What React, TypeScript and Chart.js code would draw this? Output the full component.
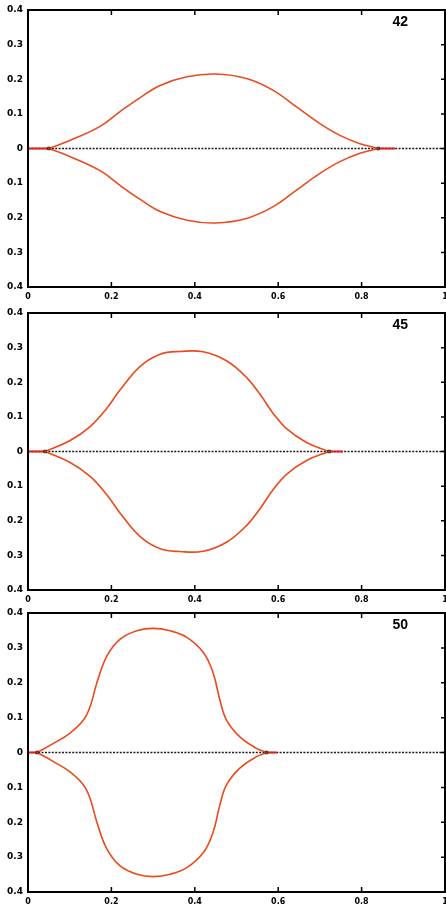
import React, { useEffect, useRef } from "react";
import { Chart, registerables } from "chart.js";

Chart.register(...registerables);

// ---- data ----
const PANEL_LABELS = ["42", "45", "50"];

const X_42 = [0.05, 0.1, 0.173, 0.22, 0.269, 0.317, 0.381, 0.45, 0.524, 0.588, 0.644, 0.7, 0.748, 0.796, 0.84];
const UP_42 = [0, 0.023, 0.064, 0.106, 0.147, 0.182, 0.207, 0.215, 0.202, 0.168, 0.12, 0.072, 0.038, 0.014, 0];
const LO_42 = [0, -0.023, -0.064, -0.106, -0.147, -0.182, -0.207, -0.215, -0.202, -0.168, -0.12, -0.072, -0.038, -0.014, 0];
const FLAT_X_42 = [0, 0.05, 0.5, 0.84, 0.88];
const FLAT_Y_42 = [0, 0, null, 0, 0];
const JUNCTION_X_42 = [0.05, 0.84];

const X_45 = [0.041, 0.1, 0.149, 0.189, 0.221, 0.269, 0.317, 0.365, 0.42, 0.476, 0.524, 0.556, 0.588, 0.62, 0.668, 0.722];
const UP_45 = [0, 0.031, 0.072, 0.125, 0.178, 0.246, 0.281, 0.289, 0.288, 0.262, 0.214, 0.166, 0.11, 0.066, 0.026, 0];
const LO_45 = [0, -0.031, -0.072, -0.125, -0.178, -0.246, -0.281, -0.289, -0.288, -0.262, -0.214, -0.166, -0.11, -0.066, -0.026, 0];
const FLAT_X_45 = [0, 0.041, 0.4, 0.722, 0.755];
const FLAT_Y_45 = [0, 0, null, 0, 0];
const JUNCTION_X_45 = [0.041, 0.722];

const X_50 = [0.022, 0.061, 0.1, 0.133, 0.149, 0.165, 0.189, 0.221, 0.261, 0.3, 0.341, 0.381, 0.421, 0.444, 0.46, 0.476, 0.508, 0.548, 0.572];
const UP_50 = [0, 0.026, 0.055, 0.093, 0.132, 0.199, 0.276, 0.325, 0.349, 0.356, 0.349, 0.33, 0.286, 0.228, 0.151, 0.093, 0.045, 0.012, 0];
const LO_50 = [0, -0.026, -0.055, -0.093, -0.132, -0.199, -0.276, -0.325, -0.349, -0.356, -0.349, -0.33, -0.286, -0.228, -0.151, -0.093, -0.045, -0.012, 0];
const FLAT_X_50 = [0, 0.022, 0.3, 0.572, 0.596];
const FLAT_Y_50 = [0, 0, null, 0, 0];
const JUNCTION_X_50 = [0.022, 0.572];

const ZERO_X = [0, 1];
const ZERO_Y = [0, 0];

const X_TICKS = [0, 0.2, 0.4, 0.6, 0.8, 1];
const X_TICK_LABELS = ["0", "0.2", "0.4", "0.6", "0.8", "1"];
const Y_TICKS = [-0.4, -0.3, -0.2, -0.1, 0, 0.1, 0.2, 0.3, 0.4];
const Y_TICK_LABELS = ["0.4", "0.3", "0.2", "0.1", "0", "0.1", "0.2", "0.3", "0.4"];

const CURVE_COLOR = "rgb(234,74,30)";
const FLAT_COLOR = "rgb(226,32,24)";

function framePlugin(label: string) {
  return {
    id: "frameTicks",
    afterDraw(chart: any) {
      const { ctx, chartArea } = chart;
      const { left, top, right, bottom } = chartArea;
      const xs = chart.scales.x;
      const ys = chart.scales.y;
      ctx.save();
      ctx.strokeStyle = "#000";
      ctx.lineWidth = 2;
      ctx.strokeRect(left, top, right - left, bottom - top);
      ctx.lineWidth = 1.5;
      ctx.beginPath();
      xs.ticks.forEach((t: any) => {
        const px = xs.getPixelForValue(t.value);
        if (px <= left + 1 || px >= right - 1) return;
        ctx.moveTo(px, top);
        ctx.lineTo(px, top + 5);
        ctx.moveTo(px, bottom);
        ctx.lineTo(px, bottom - 5);
      });
      ys.ticks.forEach((t: any) => {
        const py = ys.getPixelForValue(t.value);
        if (py <= top + 1 || py >= bottom - 1) return;
        ctx.moveTo(right, py);
        ctx.lineTo(right - 4, py);
      });
      ctx.stroke();
      ctx.fillStyle = "#000";
      ctx.font = 'bold 14px "Liberation Sans", Arial, sans-serif';
      ctx.textAlign = "right";
      ctx.textBaseline = "alphabetic";
      ctx.fillText(label, right - 37, top + 16);
      ctx.restore();
    },
  };
}

type PanelProps = {
  xs: number[];
  up: number[];
  lo: number[];
  flatX: number[];
  flatY: (number | null)[];
  junctions: number[];
  label: string;
  top: number;
  height: number;
};

function Panel(props: PanelProps) {
  const ref = useRef<HTMLCanvasElement>(null);
  useEffect(() => {
    if (!ref.current) return;
    const chart = new Chart(ref.current, {
      type: "line",
      data: {
        datasets: [
          {
            data: props.junctions.map((x) => ({ x, y: 0 })),
            showLine: false,
            pointStyle: "rect",
            pointRadius: 1.8,
            pointHoverRadius: 0,
            pointHitRadius: 0,
            pointBorderWidth: 1,
            pointBorderColor: "#3a2a2a",
            pointBackgroundColor: "rgba(0,0,0,0)",
          },
          {
            data: props.xs.map((x, i) => ({ x, y: props.up[i] })),
            borderColor: CURVE_COLOR,
            borderWidth: 1.6,
            pointRadius: 0,
            tension: 0.4,
          },
          {
            data: props.xs.map((x, i) => ({ x, y: props.lo[i] })),
            borderColor: CURVE_COLOR,
            borderWidth: 1.6,
            pointRadius: 0,
            tension: 0.4,
          },
          {
            data: props.flatX.map((x, i) => ({ x, y: props.flatY[i] })),
            borderColor: FLAT_COLOR,
            borderWidth: 2.2,
            pointRadius: 0,
            spanGaps: false,
          },
          {
            data: ZERO_X.map((x, i) => ({ x, y: ZERO_Y[i] })),
            borderColor: "#1a1a1a",
            borderWidth: 1.5,
            borderDash: [2, 1.4],
            pointRadius: 0,
          },
        ],
      } as any,
      options: {
        animation: false,
        responsive: false,
        devicePixelRatio: 1,
        events: [],
        layout: { autoPadding: false, padding: { top: 10, right: 1, left: 0, bottom: 0 } },
        plugins: { legend: { display: false }, tooltip: { enabled: false } },
        scales: {
          x: {
            type: "linear",
            min: 0,
            max: 1,
            afterBuildTicks: (s: any) => {
              s.ticks = X_TICKS.map((v) => ({ value: v }));
            },
            ticks: {
              callback: (_v: any, i: number) => X_TICK_LABELS[i],
              font: { family: '"DejaVu Sans"', weight: "bold", size: 8 },
              color: "#000",
              padding: 5,
              maxRotation: 0,
              autoSkip: false,
            },
            grid: { display: false, drawTicks: false },
            border: { display: false },
            afterFit: (s: any) => {
              s.height = 18;
              s.paddingLeft = 0;
              s.paddingRight = 0;
            },
          },
          y: {
            type: "linear",
            min: -0.4,
            max: 0.4,
            afterBuildTicks: (s: any) => {
              s.ticks = Y_TICKS.map((v) => ({ value: v }));
            },
            ticks: {
              callback: (_v: any, i: number) => Y_TICK_LABELS[i],
              font: { family: '"DejaVu Sans"', weight: "bold", size: 9 },
              color: "#000",
              padding: 5,
              autoSkip: false,
            },
            grid: { display: false, drawTicks: false },
            border: { display: false },
            afterFit: (s: any) => {
              s.width = 28;
              s.paddingTop = 0;
              s.paddingBottom = 0;
            },
          },
        },
      } as any,
      plugins: [framePlugin(props.label)],
    });
    return () => chart.destroy();
  }, []);
  return (
    <canvas
      ref={ref}
      width={446}
      height={props.height}
      style={{ position: "absolute", left: 0, top: props.top, width: 446, height: props.height }}
    />
  );
}

export default function App() {
  return (
    <div
      style={{
        position: "absolute",
        left: 0,
        top: 0,
        width: 446,
        height: 910,
        overflow: "hidden",
        background: "#ffffff",
      }}
    >
      <Panel xs={X_42} up={UP_42} lo={LO_42} flatX={FLAT_X_42} flatY={FLAT_Y_42} junctions={JUNCTION_X_42} label={PANEL_LABELS[0]} top={0} height={305} />
      <Panel xs={X_45} up={UP_45} lo={LO_45} flatX={FLAT_X_45} flatY={FLAT_Y_45} junctions={JUNCTION_X_45} label={PANEL_LABELS[1]} top={303} height={305} />
      <Panel xs={X_50} up={UP_50} lo={LO_50} flatX={FLAT_X_50} flatY={FLAT_Y_50} junctions={JUNCTION_X_50} label={PANEL_LABELS[2]} top={603} height={307} />
    </div>
  );
}
